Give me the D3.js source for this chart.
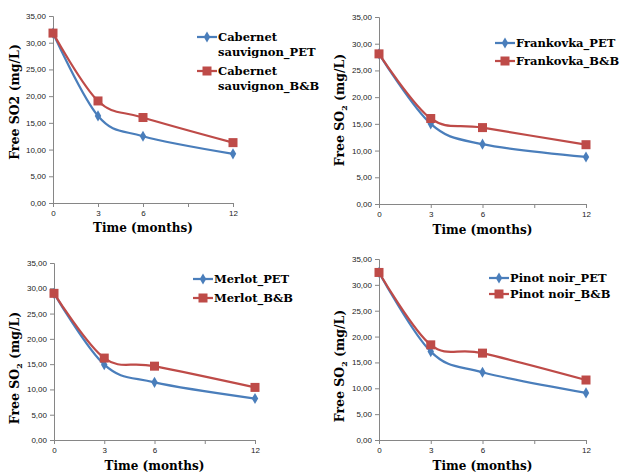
<!DOCTYPE html>
<html><head><meta charset="utf-8">
<script src="https://cdn.jsdelivr.net/npm/d3@7"></script>
<style>body{margin:0;background:#fff}svg{display:block}</style>
</head><body>
<svg id="c" width="622" height="472"></svg>
<script>
const months = [0, 3, 6, 12];
const xTicks = [0, 3, 6, 9, 12];
const yTicks = [0, 5, 10, 15, 20, 25, 30, 35];
const cabernetPET = [31.8, 16.3, 12.5, 9.2];
const cabernetBB  = [31.8, 19.1, 16.0, 11.3];
const frankovkaPET = [28.1, 15.0, 11.2, 8.8];
const frankovkaBB  = [28.1, 16.0, 14.3, 11.1];
const merlotPET = [29.0, 14.9, 11.4, 8.2];
const merlotBB  = [29.0, 16.2, 14.6, 10.4];
const pinotPET = [32.4, 17.1, 13.1, 9.1];
const pinotBB  = [32.4, 18.4, 16.8, 11.6];
const seriesNames = [
  [["Cabernet", "sauvignon_PET"], ["Cabernet", "sauvignon_B&B"]],
  [["Frankovka_PET"], ["Frankovka_B&B"]],
  [["Merlot_PET"], ["Merlot_B&B"]],
  [["Pinot noir_PET"], ["Pinot noir_B&B"]]
];
const xTitle = "Time (months)";

const panels = [
  {pet: cabernetPET, bb: cabernetBB, names: seriesNames[0], sub: false,
   x0: 53, x1: 233, y0: 203, y1: 16, ytx: 15, yty: 102, xty: 232,
   lgx: 197, lgy: [37, 71], lgdy: 15},
  {pet: frankovkaPET, bb: frankovkaBB, names: seriesNames[1], sub: true,
   x0: 379, x1: 586, y0: 204, y1: 17, ytx: 340, yty: 110, xty: 234,
   lgx: 495, lgy: [43, 61], lgdy: 0},
  {pet: merlotPET, bb: merlotBB, names: seriesNames[2], sub: true,
   x0: 54, x1: 255, y0: 440, y1: 263, ytx: 15, yty: 368, xty: 470,
   lgx: 193, lgy: [279, 298], lgdy: 0},
  {pet: pinotPET, bb: pinotBB, names: seriesNames[3], sub: true,
   x0: 379, x1: 586, y0: 440, y1: 259, ytx: 340, yty: 366, xty: 470,
   lgx: 489, lgy: [278, 294], lgdy: 0}
];

const svg = d3.select("#c");
const BLUE = "#4a7ebb", RED = "#be4b48", AX = "#868686";
const serif = "'DejaVu Serif', serif";
const fmt = v => d3.format(".2f")(v).replace(".", ",");

function marker(g, type, cx, cy) {
  if (type === "pet") {
    g.append("path").attr("d", d3.symbol(d3.symbolDiamond, 36)())
      .attr("transform", `translate(${cx},${cy})`).attr("fill", BLUE);
  } else {
    g.append("rect").attr("x", cx - 4.5).attr("y", cy - 4.5).attr("width", 9).attr("height", 9)
      .attr("fill", RED);
  }
}

panels.forEach(p => {
  const x = d3.scaleLinear().domain([0, 12]).range([p.x0, p.x1]);
  const y = d3.scaleLinear().domain([0, 35]).range([p.y0, p.y1]);
  const g = svg.append("g");

  const ya = g.append("g").attr("transform", `translate(${p.x0},0)`)
    .call(d3.axisLeft(y).tickValues(yTicks).tickSize(4).tickPadding(3).tickFormat(fmt));
  const xa = g.append("g").attr("transform", `translate(0,${p.y0})`)
    .call(d3.axisBottom(x).tickValues(xTicks).tickSize(4).tickPadding(3)
      .tickFormat(d => months.includes(d) ? d : ""));
  [ya, xa].forEach(a => {
    a.select(".domain").attr("stroke", AX);
    a.selectAll(".tick line").attr("stroke", AX);
    a.selectAll("text").attr("font-family", "'Liberation Sans', Arial, sans-serif")
      .attr("font-size", 8).attr("fill", "#222");
  });

  const line = d3.line().x((d, i) => x(months[i])).y(d => y(d)).curve(d3.curveCardinal.tension(0));
  [["pet", p.pet, BLUE], ["bb", p.bb, RED]].forEach(([t, vals, col]) => {
    g.append("path").datum(vals).attr("d", line).attr("fill", "none")
      .attr("stroke", col).attr("stroke-width", 2.25);
    vals.forEach((v, i) => marker(g, t, x(months[i]), y(v)));
  });

  // titles
  g.append("text").attr("x", (p.x0 + p.x1) / 2).attr("y", p.xty).attr("text-anchor", "middle")
    .attr("font-family", serif).attr("font-weight", "bold").attr("font-size", 12).text(xTitle);
  const yt = g.append("text").attr("transform", `translate(${p.ytx},${p.yty}) rotate(-90)`)
    .attr("text-anchor", "middle").attr("dy", "0.35em")
    .attr("font-family", serif).attr("font-weight", "bold").attr("font-size", 12.5);
  if (p.sub) {
    yt.append("tspan").text("Free SO");
    yt.append("tspan").text("2").attr("font-size", 8).attr("dy", 3);
    yt.append("tspan").text(" (mg/L)").attr("dy", -3);
  } else {
    yt.text("Free SO2 (mg/L)");
  }

  // legend
  [["pet", BLUE], ["bb", RED]].forEach(([t, col], k) => {
    const ly = p.lgy[k];
    g.append("line").attr("x1", p.lgx).attr("x2", p.lgx + 20).attr("y1", ly).attr("y2", ly)
      .attr("stroke", col).attr("stroke-width", 2.25);
    marker(g, t, p.lgx + 10, ly);
    p.names[k].forEach((s, j) => {
      g.append("text").attr("x", p.lgx + 21).attr("y", ly + j * p.lgdy).attr("dy", "0.35em")
        .attr("font-family", serif).attr("font-weight", "bold").attr("font-size", 11.5).text(s);
    });
  });
});
</script>
</body></html>
